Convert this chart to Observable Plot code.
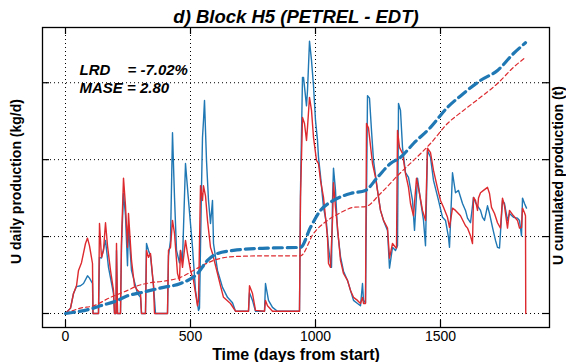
<!DOCTYPE html>
<html>
<head>
<meta charset="utf-8">
<script src="https://cdn.jsdelivr.net/npm/d3@7"></script>
<script src="https://cdn.jsdelivr.net/npm/@observablehq/plot@0.6"></script>
<style>
  body { margin: 0; background: #fff; }
  #chart svg { display: block; }
</style>
</head>
<body>
<div id="chart"></div>
<script>
// Block H5: daily uranium production and cumulated production, PETREL vs EDT
const titleText = "d) Block H5 (PETREL - EDT)";
const xLabel = "Time (days from start)";
const yLabelLeft = "U daily production (kg/d)";
const yLabelRight = "U cumulated production (t)";
const xTicks = [0, 500, 1000, 1500];
const yTicks = [0, 10, 20, 30];
const statNames = ["LRD", "MASE = 2.80"];
const lrdValue = "= -7.02%";

// PETREL daily production (kg/d)
const petrelDays = [0, 20, 32, 44, 60, 72, 88, 96, 108, 110, 132, 136, 144, 160, 172, 192, 196, 202, 204, 208, 220, 224, 232, 240, 248, 252, 264, 288, 300, 304, 320, 324, 332, 340, 352, 360, 408, 412, 420, 428, 436, 444, 456, 460, 468, 480, 492, 508, 520, 532, 536, 544, 548, 552, 556, 564, 572, 580, 588, 592, 608, 628, 648, 668, 680, 732, 736, 748, 760, 796, 800, 812, 828, 848, 936, 940, 948, 952, 964, 968, 976, 984, 992, 1000, 1008, 1012, 1020, 1032, 1044, 1052, 1060, 1064, 1068, 1072, 1080, 1088, 1100, 1112, 1128, 1140, 1152, 1168, 1180, 1188, 1192, 1200, 1208, 1216, 1224, 1232, 1248, 1260, 1272, 1288, 1296, 1308, 1320, 1328, 1332, 1340, 1348, 1360, 1372, 1388, 1396, 1408, 1420, 1432, 1440, 1448, 1460, 1472, 1492, 1508, 1520, 1532, 1536, 1548, 1560, 1572, 1588, 1600, 1608, 1620, 1632, 1640, 1648, 1660, 1668, 1676, 1688, 1696, 1708, 1720, 1728, 1736, 1748, 1756, 1768, 1776, 1792, 1808, 1816, 1824, 1828, 1836, 1844];
const petrelDaily = [0, 0.7, 2.6, 3.5, 3.6, 3.9, 4.9, 4.6, 3.9, 0, 0, 7.3, 7.2, 9.5, 6.0, 2.6, 0, 0, 8.2, 0, 0, 8.8, 15.6, 12.7, 6.2, 11.4, 5.6, 2.6, 2.1, 0, 0, 9.1, 8.2, 7.5, 3.6, 0, 0, 7.5, 9.5, 23.5, 15.1, 8.2, 6.6, 8.2, 6.9, 19.5, 14.7, 8.6, 3.0, 0.4, 0.7, 16.4, 22.9, 25.1, 27.7, 19.9, 14.7, 11.7, 14.7, 9.1, 5.6, 3.4, 2.1, 1.4, 0.3, 0.3, 2.7, 1.7, 0.3, 0.3, 3.9, 1.7, 0.8, 0.3, 0.3, 16.0, 30.7, 30.7, 27.0, 29.0, 35.4, 32.9, 29.6, 25.1, 22.5, 20.3, 17.9, 13.8, 11.7, 8.6, 6.6, 6.0, 14.7, 18.9, 16.0, 10.8, 7.4, 5.5, 4.3, 3.0, 1.7, 1.3, 1.0, 3.9, 1.7, 1.4, 28.3, 28.0, 23.8, 19.9, 16.0, 13.4, 12.1, 10.8, 5.9, 8.6, 8.2, 8.8, 27.3, 26.4, 21.6, 18.3, 17.7, 14.7, 10.8, 17.6, 14.7, 12.1, 8.8, 21.2, 20.3, 17.3, 14.7, 12.5, 12.1, 9.9, 8.6, 18.3, 15.7, 16.0, 14.3, 13.4, 12.4, 11.8, 15.1, 14.4, 14.0, 13.4, 12.5, 12.1, 14.0, 13.0, 11.2, 9.5, 8.6, 8.5, 14.7, 14.3, 12.1, 13.0, 12.5, 12.4, 12.1, 10.1, 15.0, 14.3, 13.7];

// EDT daily production (kg/d)
const edtDays = [0, 20, 32, 44, 52, 64, 80, 88, 96, 108, 110, 132, 136, 144, 152, 160, 168, 180, 192, 196, 202, 204, 208, 220, 224, 232, 240, 248, 252, 264, 276, 288, 300, 304, 320, 324, 332, 340, 352, 356, 408, 412, 420, 428, 436, 448, 456, 460, 468, 480, 488, 500, 512, 528, 532, 540, 548, 552, 560, 568, 580, 588, 608, 620, 632, 660, 680, 732, 736, 748, 760, 796, 800, 808, 828, 936, 940, 948, 956, 964, 968, 976, 984, 992, 1004, 1012, 1020, 1032, 1048, 1052, 1060, 1068, 1072, 1080, 1088, 1100, 1112, 1128, 1140, 1152, 1168, 1180, 1188, 1192, 1200, 1204, 1212, 1228, 1240, 1260, 1272, 1288, 1296, 1308, 1320, 1324, 1328, 1336, 1348, 1360, 1372, 1380, 1392, 1404, 1416, 1428, 1440, 1448, 1460, 1472, 1488, 1500, 1512, 1528, 1536, 1548, 1560, 1580, 1600, 1608, 1620, 1628, 1632, 1640, 1648, 1652, 1660, 1672, 1688, 1696, 1704, 1716, 1728, 1740, 1748, 1756, 1768, 1776, 1792, 1808, 1816, 1824, 1828, 1836, 1840, 1841];
const edtDaily = [0, 0.7, 2.6, 3.6, 5.6, 6.6, 9.1, 9.8, 8.8, 6.5, 0, 0, 11.7, 7.3, 8.2, 11.8, 8.8, 5.6, 3.0, 0, 0, 9.1, 0, 0, 9.5, 17.6, 14.0, 8.6, 13.0, 6.9, 3.6, 3.0, 2.7, 0, 0, 8.2, 7.3, 7.8, 3.6, 0, 0, 8.2, 8.6, 12.1, 10.4, 5.2, 4.3, 8.2, 6.0, 9.5, 7.8, 5.6, 4.3, 1.0, 1.7, 16.6, 14.7, 16.6, 15.3, 12.1, 8.6, 7.8, 5.2, 3.6, 2.1, 1.3, 0.3, 0.3, 3.6, 2.6, 0.4, 0.3, 1.7, 1.0, 0.3, 0.3, 15.1, 25.5, 24.7, 22.5, 24.2, 28.1, 26.4, 22.9, 19.9, 19.5, 17.3, 15.1, 9.9, 6.5, 6.0, 12.1, 17.0, 13.8, 11.2, 6.9, 5.2, 4.3, 3.0, 2.1, 1.7, 1.3, 2.1, 1.3, 1.3, 24.7, 24.1, 19.5, 17.7, 13.4, 12.1, 11.1, 7.2, 9.1, 8.6, 8.5, 23.8, 21.6, 20.8, 18.2, 16.4, 14.3, 12.7, 17.6, 15.6, 13.4, 12.1, 21.5, 20.9, 18.6, 16.3, 14.7, 13.8, 12.5, 11.2, 13.7, 13.4, 12.7, 11.4, 11.1, 10.1, 9.1, 15.1, 14.7, 13.4, 15.0, 15.7, 16.0, 16.4, 15.6, 13.8, 13.0, 11.8, 11.1, 15.0, 14.0, 11.1, 13.4, 12.7, 12.1, 11.1, 11.2, 13.7, 13.1, 12.7, 0];

// Cumulated production (t)
const petrelCumDays = [0, 112, 140, 208, 248, 300, 352, 392, 460, 528, 568, 608, 672, 808, 940, 980, 1020, 1072, 1140, 1200, 1248, 1300, 1340, 1392, 1460, 1528, 1592, 1660, 1728, 1792, 1840];
const petrelCum = [0, 0.7, 1.0, 1.7, 2.3, 2.7, 3.1, 3.4, 3.9, 5.2, 6.9, 7.8, 8.2, 8.5, 8.6, 11.2, 13.4, 14.7, 15.6, 16.0, 17.7, 19.5, 20.3, 22.1, 24.2, 26.8, 28.6, 30.3, 31.6, 33.8, 35.2];
const edtCumDays = [0, 60, 112, 180, 248, 288, 340, 392, 460, 528, 592, 672, 808, 940, 992, 1048, 1100, 1152, 1200, 1260, 1340, 1392, 1460, 1528, 1592, 1660, 1728, 1792, 1840];
const edtCum = [0, 0.7, 1.0, 2.1, 3.0, 3.6, 4.0, 4.2, 4.7, 5.9, 6.9, 7.4, 7.5, 7.5, 10.4, 12.1, 13.1, 13.8, 13.9, 15.6, 18.3, 19.9, 22.1, 24.7, 26.4, 28.1, 29.9, 32.0, 33.3];

const zip = (xs, ys) => xs.map((x, i) => ({day: x, value: ys[i]}));
const petrel = zip(petrelDays, petrelDaily);
const edt = zip(edtDays, edtDaily);
const petrelCumulated = zip(petrelCumDays, petrelCum);
const edtCumulated = zip(edtCumDays, edtCum);

const blue = "#1f77b4";
const red = "#dd2a2f";
const font = "'Liberation Sans', Arial, Helvetica, sans-serif";
const statStyle = {frameAnchor: "top-left", textAnchor: "start", lineAnchor: "middle", fontSize: 15, fontWeight: "bold", fontStyle: "italic"};

const chart = Plot.plot({
  width: 566,
  height: 362,
  marginLeft: 42,
  marginRight: 17,
  marginTop: 27,
  marginBottom: 35,
  style: {fontFamily: font, background: "#fff", color: "#000", overflow: "visible"},
  x: {domain: [-92, 1936]},
  y: {domain: [-1.82, 37.18]},
  marks: [
    // dotted grid
    Plot.ruleX(xTicks, {stroke: "#000", strokeWidth: 1, strokeDasharray: "1,3"}),
    Plot.ruleY(yTicks, {stroke: "#000", strokeWidth: 1, strokeDasharray: "1,3"}),
    // daily production
    Plot.line(petrel, {x: "day", y: "value", stroke: blue, strokeWidth: 1.4}),
    Plot.line(edt, {x: "day", y: "value", stroke: red, strokeWidth: 1.4}),
    // cumulated production
    Plot.line(edtCumulated, {x: "day", y: "value", stroke: red, strokeWidth: 1.2, strokeDasharray: "4,3", curve: "monotone-x"}),
    Plot.line(petrelCumulated, {x: "day", y: "value", stroke: blue, strokeWidth: 3.2, strokeDasharray: "9,5", curve: "monotone-x"}),
    // inward tick marks on all four sides
    Plot.ruleX(xTicks, {insetTop: 293, stroke: "#000", strokeWidth: 1.2}),
    Plot.ruleX(xTicks, {insetBottom: 293, stroke: "#000", strokeWidth: 1.2}),
    Plot.ruleY(yTicks, {insetRight: 500, stroke: "#000", strokeWidth: 1.2}),
    Plot.ruleY(yTicks, {insetLeft: 500, stroke: "#000", strokeWidth: 1.2}),
    Plot.frame({stroke: "#000", strokeWidth: 1.3}),
    // x tick labels
    Plot.axisX(xTicks, {tickSize: 0, tickPadding: 4, fontSize: 14, label: null, tickFormat: (d) => String(d)}),
    Plot.axisY({ticks: [], label: null}),
    // titles and axis labels
    Plot.text([titleText], {frameAnchor: "top", dy: -10, fontSize: 18.5, fontWeight: "bold", fontStyle: "italic", lineAnchor: "middle"}),
    Plot.text([xLabel], {frameAnchor: "bottom", dy: 27, fontSize: 16, fontWeight: "bold", lineAnchor: "middle"}),
    Plot.text([yLabelLeft], {frameAnchor: "left", dx: -26, dy: 4, rotate: -90, textAnchor: "middle", lineAnchor: "middle", fontSize: 14, fontWeight: "bold"}),
    Plot.text([yLabelRight], {frameAnchor: "right", dx: 9, dy: -2, rotate: -90, textAnchor: "middle", lineAnchor: "middle", fontSize: 14, fontWeight: "bold"}),
    // fit statistics
    Plot.text([statNames[0]], {...statStyle, dx: 37, dy: 43}),
    Plot.text([lrdValue], {...statStyle, dx: 85, dy: 43}),
    Plot.text([statNames[1]], {...statStyle, dx: 37, dy: 61})
  ]
});

document.getElementById("chart").appendChild(chart);
</script>
</body>
</html>
